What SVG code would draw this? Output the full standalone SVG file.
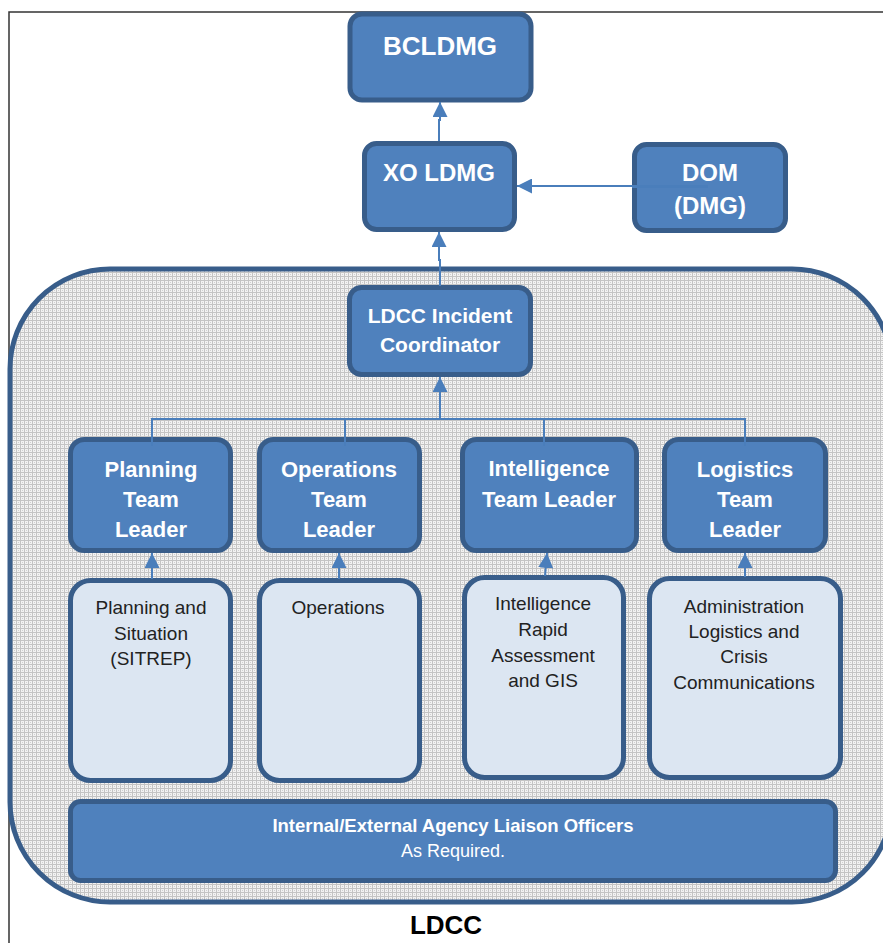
<svg xmlns="http://www.w3.org/2000/svg" width="883" height="943" viewBox="0 0 883 943">
  <defs>
    <pattern id="dots" width="4" height="4" patternUnits="userSpaceOnUse">
      <rect width="4" height="4" fill="#f2f2f2"/>
      <rect width="4" height="1" fill="#c4c4c4"/>
      <rect width="1" height="4" fill="#c4c4c4"/>
      <rect x="2" y="2" width="1" height="1" fill="#d0d0d0"/>
    </pattern>
    <marker id="arr" markerUnits="userSpaceOnUse" markerWidth="15" markerHeight="15" refX="15" refY="7.5" orient="auto">
      <path d="M0,0 L15,7.5 L0,15 z" fill="#4A7EBB"/>
    </marker>
  </defs>
  <style>
    .dark { fill: #4F81BD; stroke: #385D8A; stroke-width: 5; }
    .light { fill: #DCE6F2; stroke: #385D8A; stroke-width: 5; }
    .wt { fill: #ffffff; font-family: "Liberation Sans", Arial, sans-serif; font-weight: bold; text-anchor: middle; }
    .bt { fill: #222222; font-family: "Liberation Sans", Arial, sans-serif; font-size: 19px; text-anchor: middle; }
    .conn { fill: none; stroke: #4A7EBB; stroke-width: 2; }
  </style>
  <rect width="883" height="943" fill="#ffffff"/>
  <path d="M883,12 H9 V943" fill="none" stroke="#333333" stroke-width="1.5"/>

  <rect id="ldcc-container" x="10" y="269" width="882" height="633" rx="100" ry="100" fill="url(#dots)" stroke="#385D8A" stroke-width="5"/>
  <text x="446" y="934" font-family="Liberation Sans, Arial, sans-serif" font-weight="bold" font-size="26" fill="#000000" text-anchor="middle">LDCC</text>

  <g id="nodes">
    <g id="bcldmg">
      <rect class="dark" x="350" y="14" width="181" height="86" rx="12"/>
      <text class="wt" x="440" y="55" font-size="26">BCLDMG</text>
    </g>
    <g id="xo-ldmg">
      <rect class="dark" x="364.5" y="143.5" width="150" height="86" rx="12"/>
      <text class="wt" x="439" y="181" font-size="24">XO LDMG</text>
    </g>
    <g id="dom">
      <rect class="dark" x="634.5" y="144.5" width="151" height="86" rx="12"/>
      <text class="wt" x="710" y="181" font-size="24">DOM</text>
      <text class="wt" x="710" y="214" font-size="24">(DMG)</text>
    </g>
    <g id="ldcc-ic">
      <rect class="dark" x="349.5" y="287.5" width="181" height="87" rx="12"/>
      <text class="wt" x="440" y="323" font-size="21">LDCC Incident</text>
      <text class="wt" x="440" y="352" font-size="21">Coordinator</text>
    </g>
    <g id="planning-tl">
      <rect class="dark" x="70.5" y="439.5" width="160" height="111" rx="14"/>
      <text class="wt" x="151" y="477" font-size="22">Planning</text>
      <text class="wt" x="151" y="507" font-size="22">Team</text>
      <text class="wt" x="151" y="537" font-size="22">Leader</text>
    </g>
    <g id="operations-tl">
      <rect class="dark" x="259.5" y="439.5" width="160" height="111" rx="14"/>
      <text class="wt" x="339" y="477" font-size="22">Operations</text>
      <text class="wt" x="339" y="507" font-size="22">Team</text>
      <text class="wt" x="339" y="537" font-size="22">Leader</text>
    </g>
    <g id="intelligence-tl">
      <rect class="dark" x="462.5" y="439.5" width="174" height="111" rx="14"/>
      <text class="wt" x="549" y="476" font-size="22">Intelligence</text>
      <text class="wt" x="549" y="507" font-size="22">Team Leader</text>
    </g>
    <g id="logistics-tl">
      <rect class="dark" x="664.5" y="439.5" width="161" height="111" rx="14"/>
      <text class="wt" x="745" y="477" font-size="22">Logistics</text>
      <text class="wt" x="745" y="507" font-size="22">Team</text>
      <text class="wt" x="745" y="537" font-size="22">Leader</text>
    </g>
    <g id="planning-sit">
      <rect class="light" x="70.5" y="580.5" width="160" height="200" rx="20"/>
      <text class="bt" x="151" y="614">Planning and</text>
      <text class="bt" x="151" y="640">Situation</text>
      <text class="bt" x="151" y="665">(SITREP)</text>
    </g>
    <g id="operations">
      <rect class="light" x="259.5" y="580.5" width="160" height="200" rx="20"/>
      <text class="bt" x="338" y="614">Operations</text>
    </g>
    <g id="intelligence">
      <rect class="light" x="464.5" y="577.5" width="159" height="200" rx="20"/>
      <text class="bt" x="543" y="610">Intelligence</text>
      <text class="bt" x="543" y="636">Rapid</text>
      <text class="bt" x="543" y="662">Assessment</text>
      <text class="bt" x="543" y="687">and GIS</text>
    </g>
    <g id="administration">
      <rect class="light" x="649.5" y="578.5" width="191" height="199" rx="20"/>
      <text class="bt" x="744" y="613">Administration</text>
      <text class="bt" x="744" y="638">Logistics and</text>
      <text class="bt" x="744" y="663">Crisis</text>
      <text class="bt" x="744" y="689">Communications</text>
    </g>
    <g id="liaison">
      <rect class="dark" x="70.5" y="801.5" width="765" height="79" rx="10"/>
      <text class="wt" x="453" y="832" font-size="18.5">Internal/External Agency Liaison Officers</text>
      <text x="453" y="857" font-family="Liberation Sans, Arial, sans-serif" font-size="18" fill="#ffffff" text-anchor="middle">As Required.</text>
    </g>
  </g>

  <g id="connectors">
    <path class="conn" d="M439,141 V120 H440 V102" marker-end="url(#arr)"/>
    <path class="conn" d="M632,187 H707 V186 H517" marker-end="url(#arr)"/>
    <path class="conn" d="M440,286 V260 H439 V232" marker-end="url(#arr)"/>
    <path class="conn" d="M152,446 V419 H745 V446"/>
    <path class="conn" d="M345,419 V446"/>
    <path class="conn" d="M544,419 V446"/>
    <path class="conn" d="M440,419 V377" marker-end="url(#arr)"/>
    <path class="conn" d="M152,579 V553" marker-end="url(#arr)"/>
    <path class="conn" d="M339,579 V553" marker-end="url(#arr)"/>
    <path class="conn" d="M545,576 L547,553" marker-end="url(#arr)"/>
    <path class="conn" d="M745,577 V553" marker-end="url(#arr)"/>
  </g>
</svg>
